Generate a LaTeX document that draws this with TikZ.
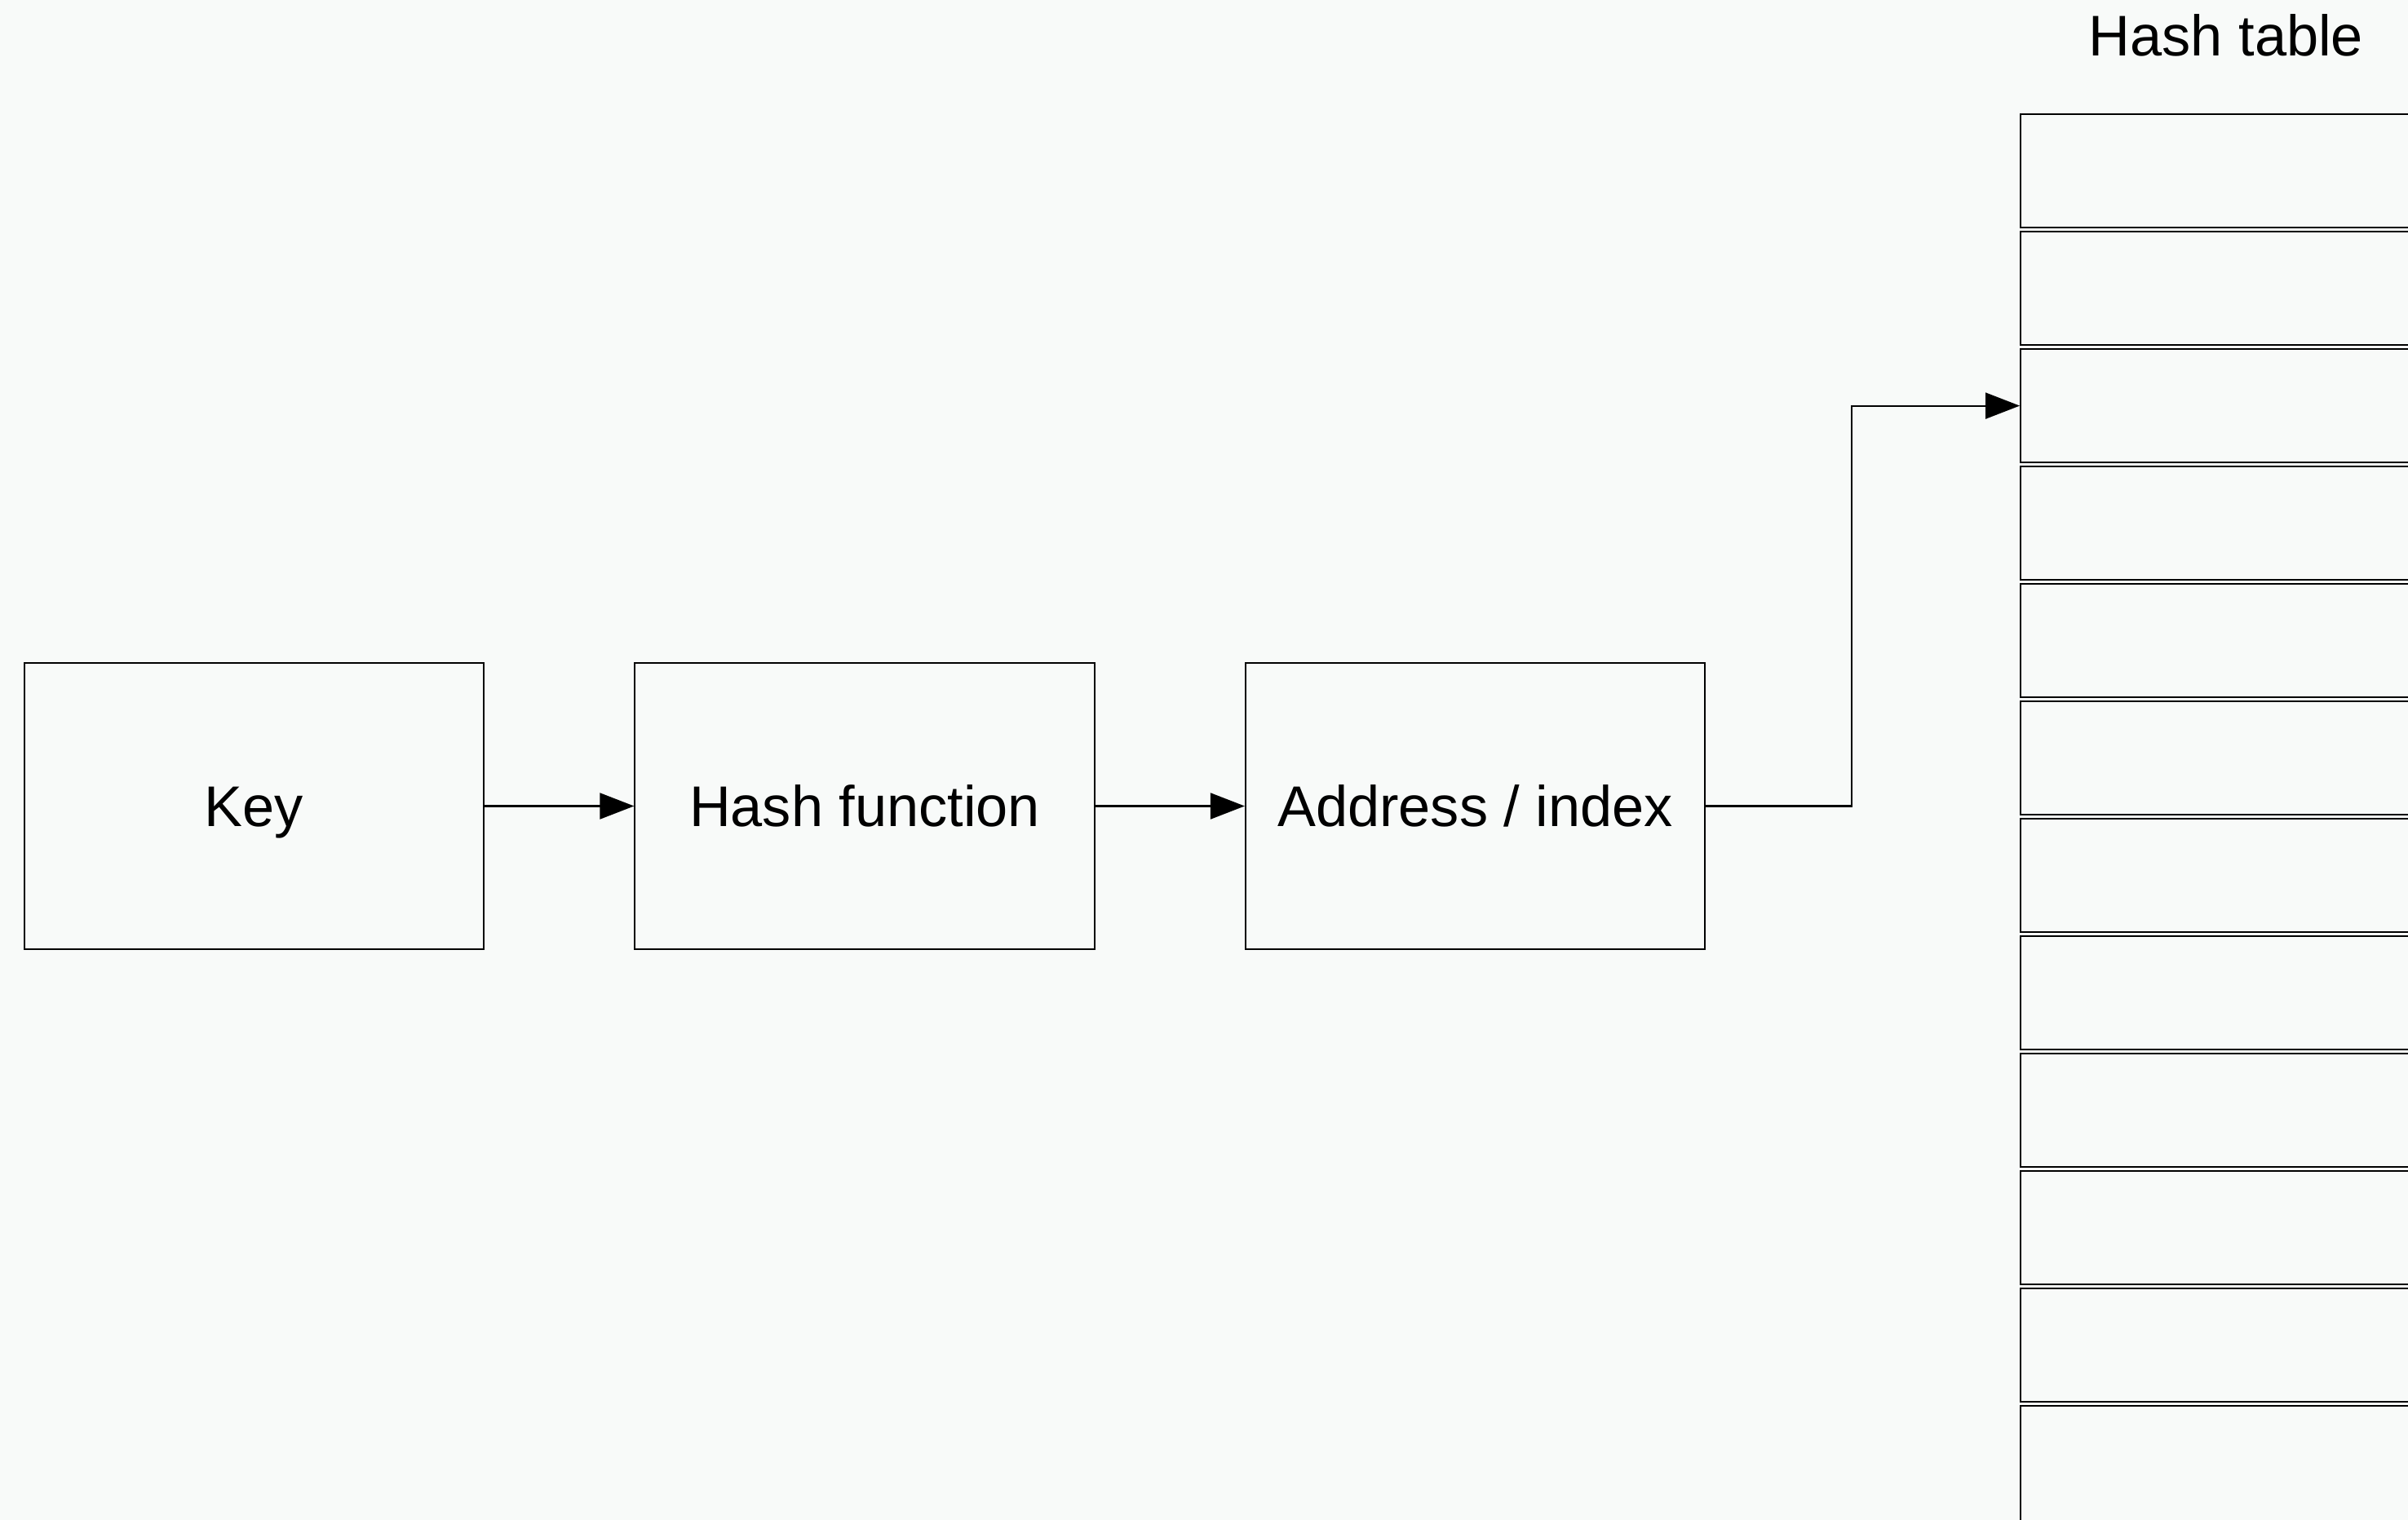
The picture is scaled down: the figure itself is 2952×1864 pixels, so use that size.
\documentclass[tikz,border=0pt]{standalone}
\usepackage{fontspec}
\setmainfont{Liberation Sans}
\usetikzlibrary{positioning, arrows.meta}
\definecolor{paper}{RGB}{248,250,249}

\tikzset{
  block/.style={draw, line width=0.6pt, minimum width=5.63cm, minimum height=3.51cm,
    inner sep=0pt, text height=14.3pt, text depth=0pt, font=\fontsize{20}{24}\selectfont},
  slot/.style={draw, line width=0.6pt, minimum width=5.06cm, minimum height=1.39cm,
    anchor=north west, inner sep=0pt},
  link/.style={line width=0.6pt, -{Triangle[length=4.2mm,width=3.2mm]}}
}

\begin{document}
\begin{tikzpicture}[x=0.01cm, y=-0.01cm]
  \clip (0,0) rectangle (2952,1864);
  \fill[paper] (0,0) rectangle (2952,1864);

  % pipeline
  \node (key) [block] at (311.5,988.5) {Key};
  \node (hashfn) [block, right=1.83cm of key] {Hash function};
  \node (addr) [block, right=1.83cm of hashfn] {Address / index};

  % the table, one slot per row
  \def\pitch{144}
  \foreach \i in {1,2,...,11}
    \node (row\i) [slot] at (2476, {139+(\i-1)*\pitch}) {};
  \node (row12) [slot, minimum height=3cm] at (2476, {139+11*\pitch}) {};
  \node (title) [anchor=base, font=\fontsize{20}{24}\selectfont] at (2729,69) {Hash table};

  \draw [link] (key) -- (hashfn);
  \draw [link] (hashfn) -- (addr);
  \draw [link] (addr.east) -- ++(1.79cm,0) |- (row3.west);
\end{tikzpicture}
\end{document}
